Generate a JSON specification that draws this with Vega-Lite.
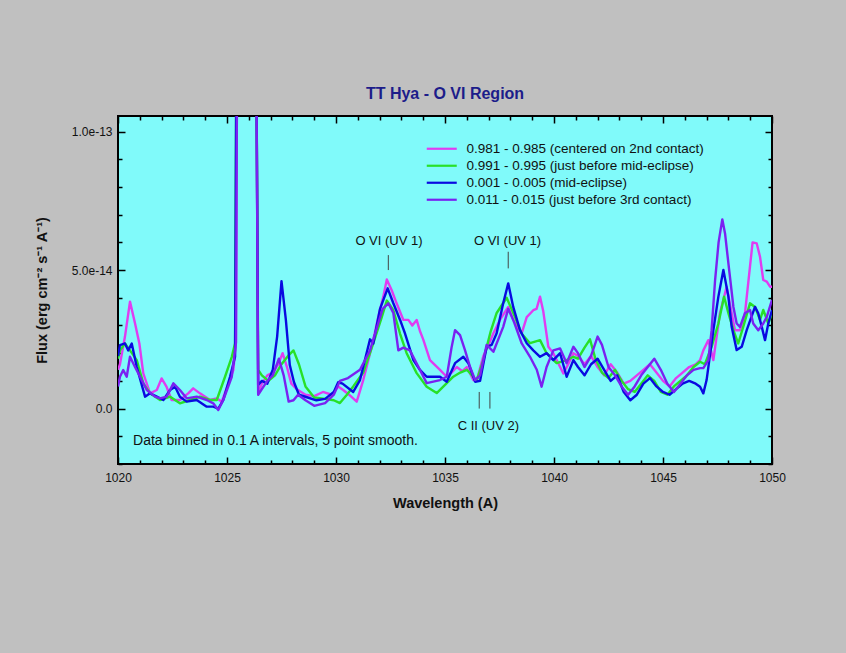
{
  "$schema": "https://vega.github.io/schema/vega-lite/v6.json",
  "width": 654,
  "height": 348,
  "autosize": {"type": "none"},
  "padding": {"left": 118, "top": 116, "right": 74, "bottom": 189},
  "background": "#c0c0c0",
  "title": {"text": "TT Hya - O VI Region", "anchor": "middle", "offset": 13, "fontSize": 16, "font": "Liberation Sans", "fontWeight": "bold", "color": "#1c1c8a"},
  "config": {
    "view": {"fill": "#80fafa", "stroke": "#000000", "strokeWidth": 2},
    "axis": {"grid": false, "domain": false, "tickColor": "#000000", "tickWidth": 1.5, "labelFont": "Liberation Sans", "labelFontSize": 12, "labelColor": "#111111", "titleFont": "Liberation Sans", "titleColor": "#111111", "titleFontSize": 14.5, "titleFontWeight": "bold", "labelOverlap": false, "labelFlush": false}
  },
  "datasets": {
    "spec": [
      {"s":"a","w":1020.0,"f":1.4e-14},{"s":"a","w":1020.09,"f":1.6e-14},{"s":"a","w":1020.32,"f":2.6e-14},{"s":"a","w":1020.55,"f":3.86e-14},{"s":"a","w":1020.78,"f":3.08e-14},{"s":"a","w":1020.98,"f":2.35e-14},{"s":"a","w":1021.16,"f":1.27e-14},{"s":"a","w":1021.47,"f":0.55e-14},{"s":"a","w":1021.78,"f":0.67e-14},{"s":"a","w":1022.0,"f":1.09e-14},{"s":"a","w":1022.23,"f":0.78e-14},{"s":"a","w":1022.46,"f":0.31e-14},{"s":"a","w":1022.84,"f":0.31e-14},{"s":"a","w":1023.22,"f":0.55e-14},{"s":"a","w":1023.45,"f":0.73e-14},{"s":"a","w":1023.76,"f":0.55e-14},{"s":"a","w":1024.22,"f":0.31e-14},{"s":"a","w":1024.53,"f":0.37e-14},{"s":"a","w":1024.76,"f":0.25e-14},{"s":"a","w":1025.06,"f":0.91e-14},{"s":"a","w":1025.29,"f":1.39e-14},{"s":"a","w":1025.41,"f":2.4e-14},{"s":"a","w":1025.5,"f":2.0e-13},{"s":"a","w":1025.65,"f":3.0e-13},{"s":"a","w":1026.2,"f":3.0e-13},{"s":"a","w":1026.33,"f":1.5e-13},{"s":"a","w":1026.43,"f":0.56e-14},{"s":"a","w":1026.6,"f":0.9e-14},{"s":"a","w":1026.85,"f":1.2e-14},{"s":"a","w":1027.1,"f":1.3e-14},{"s":"a","w":1027.35,"f":1.6e-14},{"s":"a","w":1027.55,"f":2.0e-14},{"s":"a","w":1027.75,"f":1.5e-14},{"s":"a","w":1027.95,"f":0.9e-14},{"s":"a","w":1028.2,"f":0.7e-14},{"s":"a","w":1028.6,"f":0.5e-14},{"s":"a","w":1029.0,"f":0.45e-14},{"s":"a","w":1029.4,"f":0.6e-14},{"s":"a","w":1029.8,"f":0.5e-14},{"s":"a","w":1030.1,"f":0.8e-14},{"s":"a","w":1030.33,"f":0.67e-14},{"s":"a","w":1030.6,"f":0.5e-14},{"s":"a","w":1030.95,"f":0.25e-14},{"s":"a","w":1031.25,"f":1.03e-14},{"s":"a","w":1031.64,"f":2.23e-14},{"s":"a","w":1031.94,"f":3.31e-14},{"s":"a","w":1032.17,"f":4.04e-14},{"s":"a","w":1032.33,"f":4.66e-14},{"s":"a","w":1032.55,"f":4.28e-14},{"s":"a","w":1032.78,"f":3.8e-14},{"s":"a","w":1033.09,"f":3.2e-14},{"s":"a","w":1033.32,"f":3.2e-14},{"s":"a","w":1033.5,"f":3.0e-14},{"s":"a","w":1033.7,"f":3.2e-14},{"s":"a","w":1033.85,"f":2.8e-14},{"s":"a","w":1034.0,"f":2.5e-14},{"s":"a","w":1034.31,"f":1.75e-14},{"s":"a","w":1034.77,"f":1.4e-14},{"s":"a","w":1035.08,"f":1.15e-14},{"s":"a","w":1035.3,"f":1.3e-14},{"s":"a","w":1035.54,"f":1.5e-14},{"s":"a","w":1035.8,"f":1.35e-14},{"s":"a","w":1036.0,"f":1.5e-14},{"s":"a","w":1036.3,"f":1.03e-14},{"s":"a","w":1036.45,"f":1.0e-14},{"s":"a","w":1036.76,"f":1.9e-14},{"s":"a","w":1037.0,"f":2.3e-14},{"s":"a","w":1037.22,"f":2.72e-14},{"s":"a","w":1037.52,"f":3.2e-14},{"s":"a","w":1037.9,"f":3.67e-14},{"s":"a","w":1038.13,"f":3.2e-14},{"s":"a","w":1038.35,"f":2.9e-14},{"s":"a","w":1038.52,"f":2.72e-14},{"s":"a","w":1038.75,"f":3.3e-14},{"s":"a","w":1039.05,"f":3.55e-14},{"s":"a","w":1039.2,"f":3.6e-14},{"s":"a","w":1039.36,"f":4.04e-14},{"s":"a","w":1039.51,"f":3.5e-14},{"s":"a","w":1039.74,"f":2.23e-14},{"s":"a","w":1039.97,"f":2.0e-14},{"s":"a","w":1040.28,"f":1.5e-14},{"s":"a","w":1040.43,"f":1.27e-14},{"s":"a","w":1040.65,"f":1.6e-14},{"s":"a","w":1040.89,"f":2.0e-14},{"s":"a","w":1041.1,"f":1.9e-14},{"s":"a","w":1041.4,"f":1.6e-14},{"s":"a","w":1041.7,"f":1.9e-14},{"s":"a","w":1042.0,"f":1.5e-14},{"s":"a","w":1042.3,"f":1.2e-14},{"s":"a","w":1042.6,"f":1.6e-14},{"s":"a","w":1042.9,"f":1.3e-14},{"s":"a","w":1043.2,"f":0.9e-14},{"s":"a","w":1043.5,"f":1.0e-14},{"s":"a","w":1043.8,"f":1.2e-14},{"s":"a","w":1044.1,"f":1.4e-14},{"s":"a","w":1044.4,"f":1.6e-14},{"s":"a","w":1044.7,"f":1.3e-14},{"s":"a","w":1045.0,"f":1.0e-14},{"s":"a","w":1045.3,"f":0.8e-14},{"s":"a","w":1045.6,"f":1.1e-14},{"s":"a","w":1045.9,"f":1.3e-14},{"s":"a","w":1046.2,"f":1.5e-14},{"s":"a","w":1046.5,"f":1.6e-14},{"s":"a","w":1046.7,"f":1.75e-14},{"s":"a","w":1046.85,"f":2.1e-14},{"s":"a","w":1047.08,"f":2.47e-14},{"s":"a","w":1047.31,"f":1.75e-14},{"s":"a","w":1047.61,"f":3.44e-14},{"s":"a","w":1047.92,"f":4.4e-14},{"s":"a","w":1048.15,"f":3.44e-14},{"s":"a","w":1048.3,"f":2.83e-14},{"s":"a","w":1048.53,"f":2.83e-14},{"s":"a","w":1048.76,"f":3.44e-14},{"s":"a","w":1048.99,"f":5.12e-14},{"s":"a","w":1049.11,"f":6.0e-14},{"s":"a","w":1049.3,"f":5.96e-14},{"s":"a","w":1049.45,"f":5.48e-14},{"s":"a","w":1049.6,"f":4.64e-14},{"s":"a","w":1049.76,"f":4.58e-14},{"s":"a","w":1049.91,"f":4.4e-14},{"s":"a","w":1050.0,"f":4.4e-14},

      {"s":"b","w":1020.0,"f":1.8e-14},{"s":"b","w":1020.09,"f":2.1e-14},{"s":"b","w":1020.32,"f":2.35e-14},{"s":"b","w":1020.55,"f":2.1e-14},{"s":"b","w":1020.86,"f":1.75e-14},{"s":"b","w":1021.16,"f":0.91e-14},{"s":"b","w":1021.47,"f":0.55e-14},{"s":"b","w":1021.93,"f":0.31e-14},{"s":"b","w":1022.39,"f":0.43e-14},{"s":"b","w":1022.84,"f":0.19e-14},{"s":"b","w":1023.3,"f":0.31e-14},{"s":"b","w":1023.76,"f":0.43e-14},{"s":"b","w":1024.22,"f":0.31e-14},{"s":"b","w":1024.53,"f":0.31e-14},{"s":"b","w":1024.91,"f":1.15e-14},{"s":"b","w":1025.22,"f":1.87e-14},{"s":"b","w":1025.37,"f":2.36e-14},{"s":"b","w":1025.47,"f":2.0e-13},{"s":"b","w":1025.65,"f":3.0e-13},{"s":"b","w":1026.2,"f":3.0e-13},{"s":"b","w":1026.33,"f":1.5e-13},{"s":"b","w":1026.43,"f":1.4e-14},{"s":"b","w":1026.6,"f":1.2e-14},{"s":"b","w":1026.9,"f":1.0e-14},{"s":"b","w":1027.2,"f":1.2e-14},{"s":"b","w":1027.5,"f":1.6e-14},{"s":"b","w":1027.8,"f":1.9e-14},{"s":"b","w":1028.05,"f":2.1e-14},{"s":"b","w":1028.3,"f":1.6e-14},{"s":"b","w":1028.6,"f":0.8e-14},{"s":"b","w":1029.0,"f":0.4e-14},{"s":"b","w":1029.5,"f":0.35e-14},{"s":"b","w":1029.9,"f":0.3e-14},{"s":"b","w":1030.18,"f":0.2e-14},{"s":"b","w":1030.5,"f":0.5e-14},{"s":"b","w":1030.79,"f":0.8e-14},{"s":"b","w":1031.25,"f":1.3e-14},{"s":"b","w":1031.71,"f":2.35e-14},{"s":"b","w":1032.1,"f":3.3e-14},{"s":"b","w":1032.33,"f":3.9e-14},{"s":"b","w":1032.63,"f":3.55e-14},{"s":"b","w":1032.94,"f":2.7e-14},{"s":"b","w":1033.24,"f":2.0e-14},{"s":"b","w":1033.7,"f":1.28e-14},{"s":"b","w":1034.16,"f":0.79e-14},{"s":"b","w":1034.62,"f":0.56e-14},{"s":"b","w":1034.92,"f":0.79e-14},{"s":"b","w":1035.38,"f":1.15e-14},{"s":"b","w":1035.7,"f":1.3e-14},{"s":"b","w":1036.0,"f":1.4e-14},{"s":"b","w":1036.3,"f":1.15e-14},{"s":"b","w":1036.45,"f":1.0e-14},{"s":"b","w":1036.76,"f":1.75e-14},{"s":"b","w":1037.1,"f":2.8e-14},{"s":"b","w":1037.37,"f":3.45e-14},{"s":"b","w":1037.83,"f":4.0e-14},{"s":"b","w":1038.21,"f":3.3e-14},{"s":"b","w":1038.52,"f":2.7e-14},{"s":"b","w":1038.9,"f":2.36e-14},{"s":"b","w":1039.36,"f":2.47e-14},{"s":"b","w":1039.66,"f":2.0e-14},{"s":"b","w":1040.12,"f":1.64e-14},{"s":"b","w":1040.58,"f":1.75e-14},{"s":"b","w":1040.89,"f":1.87e-14},{"s":"b","w":1041.1,"f":1.8e-14},{"s":"b","w":1041.4,"f":2.2e-14},{"s":"b","w":1041.65,"f":2.5e-14},{"s":"b","w":1041.9,"f":1.8e-14},{"s":"b","w":1042.2,"f":1.3e-14},{"s":"b","w":1042.5,"f":1.1e-14},{"s":"b","w":1042.8,"f":1.4e-14},{"s":"b","w":1043.1,"f":1.0e-14},{"s":"b","w":1043.4,"f":0.7e-14},{"s":"b","w":1043.7,"f":0.6e-14},{"s":"b","w":1044.0,"f":0.9e-14},{"s":"b","w":1044.3,"f":1.2e-14},{"s":"b","w":1044.6,"f":1.0e-14},{"s":"b","w":1044.9,"f":0.6e-14},{"s":"b","w":1045.2,"f":0.5e-14},{"s":"b","w":1045.5,"f":0.8e-14},{"s":"b","w":1045.8,"f":1.0e-14},{"s":"b","w":1046.1,"f":1.2e-14},{"s":"b","w":1046.4,"f":1.5e-14},{"s":"b","w":1046.7,"f":1.69e-14},{"s":"b","w":1046.92,"f":1.6e-14},{"s":"b","w":1047.23,"f":2.23e-14},{"s":"b","w":1047.54,"f":3.07e-14},{"s":"b","w":1047.8,"f":4.04e-14},{"s":"b","w":1048.0,"f":3.44e-14},{"s":"b","w":1048.23,"f":2.83e-14},{"s":"b","w":1048.45,"f":2.35e-14},{"s":"b","w":1048.68,"f":2.95e-14},{"s":"b","w":1048.99,"f":3.8e-14},{"s":"b","w":1049.22,"f":3.67e-14},{"s":"b","w":1049.45,"f":3.2e-14},{"s":"b","w":1049.6,"f":3.56e-14},{"s":"b","w":1049.83,"f":3.07e-14},{"s":"b","w":1050.0,"f":3.44e-14},

      {"s":"c","w":1020.0,"f":1.9e-14},{"s":"c","w":1020.09,"f":2.29e-14},{"s":"c","w":1020.32,"f":2.35e-14},{"s":"c","w":1020.47,"f":2.1e-14},{"s":"c","w":1020.63,"f":2.35e-14},{"s":"c","w":1020.86,"f":1.5e-14},{"s":"c","w":1021.24,"f":0.43e-14},{"s":"c","w":1021.47,"f":0.55e-14},{"s":"c","w":1021.78,"f":0.43e-14},{"s":"c","w":1022.08,"f":0.31e-14},{"s":"c","w":1022.39,"f":0.67e-14},{"s":"c","w":1022.62,"f":0.79e-14},{"s":"c","w":1022.84,"f":0.43e-14},{"s":"c","w":1023.15,"f":0.25e-14},{"s":"c","w":1023.61,"f":0.31e-14},{"s":"c","w":1024.07,"f":0.07e-14},{"s":"c","w":1024.37,"f":0.07e-14},{"s":"c","w":1024.6,"f":0.0},{"s":"c","w":1024.83,"f":0.31e-14},{"s":"c","w":1025.14,"f":1.15e-14},{"s":"c","w":1025.37,"f":1.87e-14},{"s":"c","w":1025.47,"f":2.0e-13},{"s":"c","w":1025.65,"f":3.0e-13},{"s":"c","w":1026.2,"f":3.0e-13},{"s":"c","w":1026.33,"f":1.5e-13},{"s":"c","w":1026.43,"f":0.85e-14},{"s":"c","w":1026.6,"f":1.0e-14},{"s":"c","w":1026.85,"f":0.9e-14},{"s":"c","w":1027.1,"f":1.4e-14},{"s":"c","w":1027.3,"f":2.6e-14},{"s":"c","w":1027.5,"f":4.6e-14},{"s":"c","w":1027.7,"f":3.2e-14},{"s":"c","w":1027.88,"f":1.57e-14},{"s":"c","w":1028.07,"f":0.96e-14},{"s":"c","w":1028.3,"f":0.5e-14},{"s":"c","w":1028.7,"f":0.4e-14},{"s":"c","w":1029.1,"f":0.3e-14},{"s":"c","w":1029.5,"f":0.35e-14},{"s":"c","w":1029.9,"f":0.6e-14},{"s":"c","w":1030.1,"f":0.95e-14},{"s":"c","w":1030.3,"f":0.9e-14},{"s":"c","w":1030.79,"f":0.6e-14},{"s":"c","w":1031.1,"f":1.03e-14},{"s":"c","w":1031.56,"f":2.5e-14},{"s":"c","w":1031.71,"f":2.35e-14},{"s":"c","w":1032.02,"f":3.6e-14},{"s":"c","w":1032.37,"f":4.34e-14},{"s":"c","w":1032.63,"f":3.8e-14},{"s":"c","w":1032.94,"f":3.2e-14},{"s":"c","w":1033.17,"f":2.7e-14},{"s":"c","w":1033.55,"f":1.75e-14},{"s":"c","w":1033.85,"f":1.4e-14},{"s":"c","w":1034.16,"f":1.15e-14},{"s":"c","w":1034.77,"f":1.15e-14},{"s":"c","w":1035.08,"f":0.97e-14},{"s":"c","w":1035.46,"f":1.64e-14},{"s":"c","w":1035.84,"f":1.87e-14},{"s":"c","w":1036.07,"f":1.64e-14},{"s":"c","w":1036.38,"f":0.97e-14},{"s":"c","w":1036.61,"f":1.0e-14},{"s":"c","w":1036.91,"f":2.23e-14},{"s":"c","w":1037.14,"f":2.3e-14},{"s":"c","w":1037.37,"f":2.72e-14},{"s":"c","w":1037.67,"f":3.8e-14},{"s":"c","w":1037.9,"f":4.52e-14},{"s":"c","w":1038.13,"f":3.67e-14},{"s":"c","w":1038.44,"f":2.83e-14},{"s":"c","w":1038.75,"f":2.36e-14},{"s":"c","w":1039.05,"f":2.1e-14},{"s":"c","w":1039.36,"f":1.87e-14},{"s":"c","w":1039.66,"f":2.0e-14},{"s":"c","w":1039.97,"f":1.75e-14},{"s":"c","w":1040.28,"f":2.0e-14},{"s":"c","w":1040.58,"f":1.15e-14},{"s":"c","w":1040.89,"f":1.75e-14},{"s":"c","w":1041.1,"f":1.5e-14},{"s":"c","w":1041.4,"f":1.2e-14},{"s":"c","w":1041.7,"f":1.6e-14},{"s":"c","w":1042.0,"f":1.8e-14},{"s":"c","w":1042.3,"f":1.4e-14},{"s":"c","w":1042.6,"f":1.0e-14},{"s":"c","w":1042.9,"f":1.2e-14},{"s":"c","w":1043.2,"f":0.6e-14},{"s":"c","w":1043.5,"f":0.3e-14},{"s":"c","w":1043.8,"f":0.5e-14},{"s":"c","w":1044.1,"f":0.9e-14},{"s":"c","w":1044.4,"f":1.1e-14},{"s":"c","w":1044.7,"f":0.8e-14},{"s":"c","w":1045.0,"f":0.6e-14},{"s":"c","w":1045.3,"f":0.5e-14},{"s":"c","w":1045.6,"f":0.7e-14},{"s":"c","w":1045.9,"f":0.9e-14},{"s":"c","w":1046.2,"f":1.0e-14},{"s":"c","w":1046.5,"f":0.9e-14},{"s":"c","w":1046.7,"f":0.79e-14},{"s":"c","w":1046.85,"f":0.55e-14},{"s":"c","w":1047.0,"f":1.03e-14},{"s":"c","w":1047.31,"f":2.83e-14},{"s":"c","w":1047.54,"f":4.04e-14},{"s":"c","w":1047.77,"f":5.0e-14},{"s":"c","w":1048.0,"f":4.04e-14},{"s":"c","w":1048.15,"f":2.95e-14},{"s":"c","w":1048.38,"f":2.11e-14},{"s":"c","w":1048.61,"f":2.23e-14},{"s":"c","w":1048.84,"f":2.83e-14},{"s":"c","w":1049.22,"f":3.67e-14},{"s":"c","w":1049.37,"f":3.44e-14},{"s":"c","w":1049.53,"f":2.95e-14},{"s":"c","w":1049.68,"f":2.47e-14},{"s":"c","w":1049.83,"f":3.07e-14},{"s":"c","w":1050.0,"f":3.56e-14},

      {"s":"d","w":1020.0,"f":0.8e-14},{"s":"d","w":1020.09,"f":1.15e-14},{"s":"d","w":1020.24,"f":1.39e-14},{"s":"d","w":1020.4,"f":1.15e-14},{"s":"d","w":1020.55,"f":1.87e-14},{"s":"d","w":1020.78,"f":1.5e-14},{"s":"d","w":1021.01,"f":1.15e-14},{"s":"d","w":1021.32,"f":0.67e-14},{"s":"d","w":1021.7,"f":0.43e-14},{"s":"d","w":1021.93,"f":0.37e-14},{"s":"d","w":1022.23,"f":0.43e-14},{"s":"d","w":1022.54,"f":0.91e-14},{"s":"d","w":1022.84,"f":0.67e-14},{"s":"d","w":1023.15,"f":0.37e-14},{"s":"d","w":1023.61,"f":0.43e-14},{"s":"d","w":1024.07,"f":0.31e-14},{"s":"d","w":1024.37,"f":0.19e-14},{"s":"d","w":1024.6,"f":-0.05e-14},{"s":"d","w":1024.83,"f":0.31e-14},{"s":"d","w":1025.22,"f":1.15e-14},{"s":"d","w":1025.41,"f":2.36e-14},{"s":"d","w":1025.5,"f":2.0e-13},{"s":"d","w":1025.65,"f":3.0e-13},{"s":"d","w":1026.2,"f":3.0e-13},{"s":"d","w":1026.33,"f":1.5e-13},{"s":"d","w":1026.43,"f":0.5e-14},{"s":"d","w":1026.6,"f":0.7e-14},{"s":"d","w":1026.85,"f":1.0e-14},{"s":"d","w":1027.1,"f":1.2e-14},{"s":"d","w":1027.38,"f":1.8e-14},{"s":"d","w":1027.6,"f":1.2e-14},{"s":"d","w":1027.83,"f":0.25e-14},{"s":"d","w":1028.05,"f":0.3e-14},{"s":"d","w":1028.26,"f":0.5e-14},{"s":"d","w":1028.6,"f":0.3e-14},{"s":"d","w":1029.0,"f":0.1e-14},{"s":"d","w":1029.5,"f":0.2e-14},{"s":"d","w":1029.9,"f":0.5e-14},{"s":"d","w":1030.18,"f":1.0e-14},{"s":"d","w":1030.55,"f":1.1e-14},{"s":"d","w":1031.1,"f":1.4e-14},{"s":"d","w":1031.56,"f":2.1e-14},{"s":"d","w":1032.14,"f":3.6e-14},{"s":"d","w":1032.4,"f":3.8e-14},{"s":"d","w":1032.63,"f":3.45e-14},{"s":"d","w":1032.86,"f":2.1e-14},{"s":"d","w":1033.09,"f":2.2e-14},{"s":"d","w":1033.39,"f":2.1e-14},{"s":"d","w":1033.85,"f":1.4e-14},{"s":"d","w":1034.16,"f":0.92e-14},{"s":"d","w":1034.77,"f":1.03e-14},{"s":"d","w":1035.08,"f":1.15e-14},{"s":"d","w":1035.3,"f":2.2e-14},{"s":"d","w":1035.46,"f":2.83e-14},{"s":"d","w":1035.69,"f":2.65e-14},{"s":"d","w":1035.92,"f":2.1e-14},{"s":"d","w":1036.15,"f":1.5e-14},{"s":"d","w":1036.38,"f":1.03e-14},{"s":"d","w":1036.61,"f":1.2e-14},{"s":"d","w":1036.91,"f":2.3e-14},{"s":"d","w":1037.22,"f":2.05e-14},{"s":"d","w":1037.67,"f":2.95e-14},{"s":"d","w":1037.9,"f":3.6e-14},{"s":"d","w":1038.13,"f":3.2e-14},{"s":"d","w":1038.52,"f":2.35e-14},{"s":"d","w":1038.9,"f":1.87e-14},{"s":"d","w":1039.21,"f":1.4e-14},{"s":"d","w":1039.43,"f":0.79e-14},{"s":"d","w":1039.66,"f":1.5e-14},{"s":"d","w":1039.97,"f":2.1e-14},{"s":"d","w":1040.28,"f":2.17e-14},{"s":"d","w":1040.58,"f":1.64e-14},{"s":"d","w":1040.89,"f":2.23e-14},{"s":"d","w":1041.1,"f":2.0e-14},{"s":"d","w":1041.4,"f":1.5e-14},{"s":"d","w":1041.7,"f":1.9e-14},{"s":"d","w":1042.0,"f":2.6e-14},{"s":"d","w":1042.2,"f":2.3e-14},{"s":"d","w":1042.5,"f":1.5e-14},{"s":"d","w":1042.8,"f":1.2e-14},{"s":"d","w":1043.1,"f":0.8e-14},{"s":"d","w":1043.4,"f":0.5e-14},{"s":"d","w":1043.7,"f":0.8e-14},{"s":"d","w":1044.0,"f":1.2e-14},{"s":"d","w":1044.3,"f":1.5e-14},{"s":"d","w":1044.6,"f":1.8e-14},{"s":"d","w":1044.9,"f":1.4e-14},{"s":"d","w":1045.2,"f":0.9e-14},{"s":"d","w":1045.5,"f":0.6e-14},{"s":"d","w":1045.8,"f":0.9e-14},{"s":"d","w":1046.1,"f":1.2e-14},{"s":"d","w":1046.4,"f":1.4e-14},{"s":"d","w":1046.7,"f":1.46e-14},{"s":"d","w":1046.85,"f":1.46e-14},{"s":"d","w":1047.08,"f":1.75e-14},{"s":"d","w":1047.23,"f":2.83e-14},{"s":"d","w":1047.39,"f":4.64e-14},{"s":"d","w":1047.55,"f":6.0e-14},{"s":"d","w":1047.72,"f":6.83e-14},{"s":"d","w":1047.85,"f":6.3e-14},{"s":"d","w":1048.0,"f":5.24e-14},{"s":"d","w":1048.23,"f":3.67e-14},{"s":"d","w":1048.38,"f":3.07e-14},{"s":"d","w":1048.53,"f":2.95e-14},{"s":"d","w":1048.76,"f":3.44e-14},{"s":"d","w":1048.99,"f":3.56e-14},{"s":"d","w":1049.14,"f":3.07e-14},{"s":"d","w":1049.37,"f":2.83e-14},{"s":"d","w":1049.6,"f":3.07e-14},{"s":"d","w":1049.76,"f":3.31e-14},{"s":"d","w":1050.0,"f":3.92e-14}
    ],
    "labels": [
      {"w": 1032.43, "f": 6.05e-14, "text": "O VI  (UV 1)"},
      {"w": 1037.87, "f": 6.05e-14, "text": "O VI  (UV 1)"},
      {"w": 1036.99, "f": -0.62e-14, "text": "C II  (UV 2)"}
    ],
    "note": [
      {"w": 1020.69, "f": -1.18e-14, "text": "Data binned in 0.1 A intervals, 5 point smooth."}
    ],
    "marks": [
      {"w": 1032.4, "f": 5.0e-14, "f2": 5.54e-14},
      {"w": 1037.9, "f": 5.06e-14, "f2": 5.66e-14},
      {"w": 1036.57, "f": 0.0, "f2": 0.6e-14},
      {"w": 1037.06, "f": 0.0, "f2": 0.6e-14}
    ]
  },
  "resolve": {"axis": {"x": "independent", "y": "independent"}},
  "layer": [
    {
      "data": {"name": "spec"},
      "mark": {"type": "line", "clip": true, "strokeWidth": 2.4, "strokeJoin": "round"},
      "encoding": {
        "x": {"field": "w", "type": "quantitative",
          "scale": {"domain": [1020, 1050], "nice": false, "zero": false},
          "axis": {"orient": "bottom", "title": "Wavelength (A)", "titlePadding": 13,
            "values": [1020,1021,1022,1023,1024,1025,1026,1027,1028,1029,1030,1031,1032,1033,1034,1035,1036,1037,1038,1039,1040,1041,1042,1043,1044,1045,1046,1047,1048,1049,1050],
            "labelExpr": "datum.value % 5 === 0 ? format(datum.value, 'd') : ''",
            "tickSize": -7, "labelPadding": 15,
            "tickDash": {"condition": {"test": "datum.value % 5 === 0", "value": [1, 0]}, "value": [4, 20]}}},
        "y": {"field": "f", "type": "quantitative",
          "scale": {"domain": [-2.0e-14, 1.056e-13], "nice": false, "zero": false},
          "axis": {"orient": "left", "title": "Flux (erg cm⁻² s⁻¹ A⁻¹)", "titlePadding": 22,
            "values": [-2e-14,-1e-14,0,1e-14,2e-14,3e-14,4e-14,5e-14,6e-14,7e-14,8e-14,9e-14,1e-13],
            "labelExpr": "abs(datum.value) < 1e-16 ? '0.0' : (abs(round(datum.value * 2e13) - datum.value * 2e13) < 0.01 ? format(datum.value, '.1e') : '')",
            "tickSize": -7, "labelPadding": 13,
            "tickDash": {"condition": {"test": "abs(round(datum.value * 2e13) - datum.value * 2e13) < 0.01", "value": [1, 0]}, "value": [4, 20]}}},
        "color": {"field": "s", "type": "nominal",
          "scale": {"domain": ["a", "b", "c", "d"], "range": ["#e03cf0", "#28e028", "#0a0ae0", "#7a22f0"]},
          "legend": {"orient": "none", "legendX": 317, "legendY": 26, "title": null,
            "symbolType": "M-3,0H3", "symbolSize": 100, "symbolStrokeWidth": 2.2,
            "labelFont": "Liberation Sans", "labelFontSize": 13.5, "labelColor": "#111111", "labelOffset": 18, "rowPadding": 2, "padding": 0, "labelLimit": 400,
            "labelExpr": "datum.value == 'a' ? '0.981 - 0.985 (centered on 2nd contact)' : datum.value == 'b' ? '0.991 - 0.995 (just before mid-eclipse)' : datum.value == 'c' ? '0.001 - 0.005 (mid-eclipse)' : '0.011 - 0.015 (just before 3rd contact)'"}}
      }
    },
    {
      "data": {"name": "marks"},
      "mark": {"type": "rule", "color": "#444444", "strokeWidth": 1},
      "encoding": {
        "x": {"field": "w", "type": "quantitative",
          "axis": {"orient": "top", "title": null, "labels": false,
            "values": [1020,1021,1022,1023,1024,1025,1026,1027,1028,1029,1030,1031,1032,1033,1034,1035,1036,1037,1038,1039,1040,1041,1042,1043,1044,1045,1046,1047,1048,1049,1050],
            "tickSize": -7,
            "tickDash": {"condition": {"test": "datum.value % 5 === 0", "value": [1, 0]}, "value": [4, 20]}}},
        "y": {"field": "f", "type": "quantitative",
          "axis": {"orient": "right", "title": null, "labels": false,
            "values": [-2e-14,-1e-14,0,1e-14,2e-14,3e-14,4e-14,5e-14,6e-14,7e-14,8e-14,9e-14,1e-13],
            "tickSize": -7,
            "tickDash": {"condition": {"test": "abs(round(datum.value * 2e13) - datum.value * 2e13) < 0.01", "value": [1, 0]}, "value": [4, 20]}}},
        "y2": {"field": "f2"}
      }
    },
    {
      "data": {"name": "labels"},
      "mark": {"type": "text", "font": "Liberation Sans", "fontSize": 13, "color": "#111111", "baseline": "middle", "align": "center"},
      "encoding": {
        "x": {"field": "w", "type": "quantitative", "axis": null},
        "y": {"field": "f", "type": "quantitative", "axis": null},
        "text": {"field": "text"}
      }
    },
    {
      "data": {"name": "note"},
      "mark": {"type": "text", "font": "Liberation Sans", "fontSize": 14, "color": "#111111", "baseline": "middle", "align": "left"},
      "encoding": {
        "x": {"field": "w", "type": "quantitative", "axis": null},
        "y": {"field": "f", "type": "quantitative", "axis": null},
        "text": {"field": "text"}
      }
    }
  ]
}
